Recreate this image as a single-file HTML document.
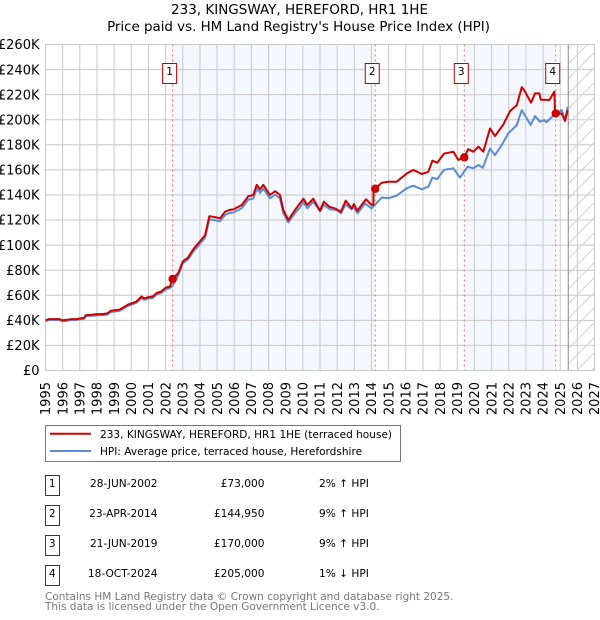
<!DOCTYPE html>
<html lang="en">
<head>
<meta charset="utf-8">
<title>233, KINGSWAY, HEREFORD, HR1 1HE</title>
<style>
html,body{margin:0;padding:0;background:#fff;width:600px;height:620px;overflow:hidden}
svg{display:block}
text{font-family:"DejaVu Sans",sans-serif;fill:#000}
</style>
</head>
<body>
<svg id="chart" width="600" height="620" viewBox="0 0 600 620">
<defs>
<pattern id="hatch" width="15" height="15" patternUnits="userSpaceOnUse" patternTransform="translate(2 0)">
<path d="M-1 16L16 -1M-1 1L1 -1M14 16L16 14" stroke="#d2d2d2" stroke-width="1" fill="none"/>
</pattern>
</defs>
<text x="299.5" y="14" text-anchor="middle" font-size="13.5">233, KINGSWAY, HEREFORD, HR1 1HE</text>
<text x="298.5" y="31" text-anchor="middle" font-size="13.4">Price paid vs. HM Land Registry's House Price Index (HPI)</text>
<g id="plot"></g>
<g>
<rect x="45.5" y="425.5" width="355" height="36" fill="#fff" stroke="#777"/>
<line x1="50" x2="91" y1="433.7" y2="433.7" stroke="#cc0000" stroke-width="2"/>
<text x="100" y="438" font-size="10.55">233, KINGSWAY, HEREFORD, HR1 1HE (terraced house)</text>
<line x1="50" x2="91" y1="451" y2="451" stroke="#5b8bd0" stroke-width="2"/>
<text x="100" y="455" font-size="10.55">HPI: Average price, terraced house, Herefordshire</text>
</g>
<g>
<g>
<rect x="45.5" y="475.5" width="14" height="20" fill="#fff" stroke="#b30000"/>
<text x="52.3" y="487" text-anchor="middle" font-size="10.6">1</text>
<text x="157.5" y="487" text-anchor="end" font-size="10.6">28-JUN-2002</text>
<text x="264.5" y="487" text-anchor="end" font-size="10.6">£73,000</text>
<text x="319" y="487" font-size="10.6">2% ↑ HPI</text>
</g>
<g>
<rect x="45.5" y="505.5" width="14" height="20" fill="#fff" stroke="#b30000"/>
<text x="52.3" y="517" text-anchor="middle" font-size="10.6">2</text>
<text x="157.5" y="517" text-anchor="end" font-size="10.6">23-APR-2014</text>
<text x="264.5" y="517" text-anchor="end" font-size="10.6">£144,950</text>
<text x="319" y="517" font-size="10.6">9% ↑ HPI</text>
</g>
<g>
<rect x="45.5" y="535.5" width="14" height="20" fill="#fff" stroke="#b30000"/>
<text x="52.3" y="547" text-anchor="middle" font-size="10.6">3</text>
<text x="157.5" y="547" text-anchor="end" font-size="10.6">21-JUN-2019</text>
<text x="264.5" y="547" text-anchor="end" font-size="10.6">£170,000</text>
<text x="319" y="547" font-size="10.6">9% ↑ HPI</text>
</g>
<g>
<rect x="45.5" y="565.5" width="14" height="20" fill="#fff" stroke="#b30000"/>
<text x="52.3" y="577" text-anchor="middle" font-size="10.6">4</text>
<text x="157.5" y="577" text-anchor="end" font-size="10.6">18-OCT-2024</text>
<text x="264.5" y="577" text-anchor="end" font-size="10.6">£205,000</text>
<text x="319" y="577" font-size="10.6">1% ↓ HPI</text>
</g>
</g>
<text x="45" y="600" font-size="10.5" style="fill:#777">Contains HM Land Registry data © Crown copyright and database right 2025.</text>
<text x="45" y="610" font-size="10.5" style="fill:#777">This data is licensed under the Open Government Licence v3.0.</text>
</svg>
<script>
const yearTicks = [1995,1996,1997,1998,1999,2000,2001,2002,2003,2004,2005,2006,2007,2008,2009,2010,2011,2012,2013,2014,2015,2016,2017,2018,2019,2020,2021,2022,2023,2024,2025,2026,2027];
const valueTicks = [0,20,40,60,80,100,120,140,160,180,200,220,240,260];
const saleYears = [2002.41,2014.22,2019.41,2024.74];
const saleValues = [73,144.95,170,205];
const saleLabels = ["1","2","3","4"];
const forecastStart = 2025.47;
const priceYears = [1995,1995.2,1995.5,1995.8,1996,1996.3,1996.5,1996.8,1997,1997.25,1997.36,1997.7,1998,1998.3,1998.6,1998.8,1999,1999.3,1999.5,1999.8,2000,2000.3,2000.6,2000.75,2001,2001.25,2001.5,2001.75,2002,2002.25,2002.41,2002.75,2003,2003.3,2003.61,2004,2004.3,2004.55,2004.8,2005.17,2005.46,2005.7,2005.95,2006.44,2006.82,2007.11,2007.31,2007.5,2007.7,2008.08,2008.38,2008.67,2008.86,2009.15,2009.54,2010.03,2010.26,2010.61,2011,2011.23,2011.54,2011.87,2012.21,2012.5,2012.85,2012.98,2013.17,2013.68,2014.01,2014.11,2014.12,2014.22,2014.6,2014.98,2015.47,2016.05,2016.44,2016.93,2017.31,2017.55,2017.84,2018.23,2018.77,2019.06,2019.41,2019.64,2019.94,2020.23,2020.52,2020.91,2021.2,2021.68,2022.08,2022.47,2022.76,2022.95,2023.3,2023.53,2023.78,2023.87,2024.07,2024.37,2024.66,2024.7,2025.09,2025.28,2025.44];
const priceValues = [40,41,41,41,40,40.5,41,41,41.5,42,44.2,44.5,45,45,45.5,47.5,48,48.5,50,52.5,53.5,55,59,57.5,58.5,59,62,63,66,67,73,78,87,90,96.6,103,108,123,122.5,121.4,126.6,128,128.5,132,139,140,148,144.5,148,140,143,140,128,120,128,137,132,137,127.4,134.6,130.6,129.3,126.6,135.4,129.3,132.8,127.4,136.5,132,132.5,145,145,149.8,150.6,150.6,157,160,156.7,158.5,167.3,165.7,173,174.5,168,170,176.6,174.5,178.5,174.5,193,187,196,207,211.7,226,222.4,213.6,221,221,216,216,215.7,222.4,205,205,199,207.7];
const hpiYears = [1995,1995.2,1995.5,1995.8,1996,1996.3,1996.5,1996.8,1997,1997.25,1997.36,1997.7,1998,1998.3,1998.6,1998.8,1999,1999.3,1999.5,1999.8,2000,2000.3,2000.6,2000.75,2001,2001.25,2001.5,2001.75,2002,2002.25,2002.41,2002.75,2003,2003.3,2003.61,2004,2004.3,2004.55,2004.8,2005.17,2005.46,2005.7,2005.95,2006.44,2006.82,2007.11,2007.31,2007.5,2007.7,2008.08,2008.38,2008.67,2008.86,2009.15,2009.54,2009.83,2010.03,2010.26,2010.61,2011,2011.23,2011.58,2011.97,2012.23,2012.48,2012.85,2012.94,2013.2,2013.63,2014.01,2014.6,2014.98,2015.47,2016.05,2016.44,2016.93,2017.31,2017.55,2017.84,2018.23,2018.77,2019.16,2019.6,2019.94,2020.23,2020.49,2020.91,2021.2,2021.59,2021.97,2022.47,2022.76,2023.28,2023.53,2023.82,2024.07,2024.2,2024.72,2025.09,2025.28,2025.44];
const hpiValues = [39.5,40.3,40.3,40.2,39.2,39.8,40.3,40.3,40.8,41.2,43.4,43.6,44.1,44.2,44.6,46.6,47,47.5,49,51.5,52.5,54,57.8,56.4,57.4,57.8,60.8,61.8,64.7,65.7,67.5,76.5,85.5,88.5,94.7,101,106,120.5,120,119,124,125.5,126,129.5,136.3,137.2,145,141.7,145,137.3,140.2,137.3,125.5,118,125.5,130,134.3,129.4,134.6,127,132,128.5,128,125.4,132.5,128.5,130.6,125.4,133.3,129.3,138,137.3,139.4,145.3,147.4,144.5,146.6,153.8,152.7,160,161.3,153.8,162.5,161.3,163.9,161.7,177,171.8,179.8,189,195.8,207.7,195.8,203,198.4,199.8,198,205,207.7,199.8,210.4];

const NS = 'http://www.w3.org/2000/svg';
const plot = document.getElementById('plot');
const left = 45.5, right = 594.5, top0 = 44.5, bottom = 370.5;
const xAt = y => left + (y - 1995) * (right - left) / (2027 - 1995);
const yAt = v => bottom - v * (bottom - top0) / 260;
function make(tag, attrs, parent) {
  const el = document.createElementNS(NS, tag);
  for (const k in attrs) el.setAttribute(k, attrs[k]);
  (parent || plot).appendChild(el);
  return el;
}
const bandEdges = saleYears;
for (let i = 0; i + 1 < bandEdges.length; i += 2) {
  const band = make('rect', {x: xAt(bandEdges[i]), y: top0, width: xAt(bandEdges[i + 1]) - xAt(bandEdges[i]), height: bottom - top0, fill: '#f4f7fe'});
  
  
}
valueTicks.forEach(v => {
  const g = make('line', {x1: left, x2: right, y1: yAt(v), y2: yAt(v), stroke: '#c8c8c8', 'stroke-width': 1});
  
  
  const t = make('text', {x: 39.5, y: yAt(v) + 4.7, 'text-anchor': 'end', 'font-size': 13});
  
  
  t.textContent = '£' + v + (v ? 'K' : '');
});
yearTicks.forEach(y => {
  const g = make('line', {x1: xAt(y), x2: xAt(y), y1: top0, y2: bottom, stroke: '#c8c8c8', 'stroke-width': 1});
  
  
  const t = make('text', {transform: 'translate(' + (xAt(y) + 4.7) + ' 382) rotate(-90)', 'text-anchor': 'end', 'font-size': 13});
  
  
  t.textContent = y;
});
const hatchRect = make('rect', {x: xAt(forecastStart), y: top0, width: right - xAt(forecastStart), height: bottom - top0, fill: 'url(#hatch)'});


const nowLine = make('line', {x1: xAt(forecastStart), x2: xAt(forecastStart), y1: top0, y2: bottom, stroke: '#888', 'stroke-width': 1});


const frame = make('rect', {x: left, y: top0, width: right - left, height: bottom - top0, fill: 'none', stroke: '#c8c8c8'});


saleYears.forEach(y => {
  const d = make('line', {x1: xAt(y), x2: xAt(y), y1: top0, y2: bottom, stroke: '#f06a6a', 'stroke-width': 1, 'stroke-dasharray': '2 3'});
  
  
});
function series(xs, vs, colour) {
  return make('polyline', {points: xs.map((y, i) => xAt(y).toFixed(1) + ',' + yAt(vs[i]).toFixed(1)).join(' '), fill: 'none', stroke: colour, 'stroke-width': 2, 'stroke-linejoin': 'round'});
}
const hpiLine = series(hpiYears, hpiValues, '#5b8bd0');


const priceLine = series(priceYears, priceValues, '#cc0000');


saleYears.forEach((y, i) => {
  const c = make('circle', {cx: xAt(y), cy: yAt(saleValues[i]), r: 4.2, fill: '#cc0000'});
  
  
  const b = make('rect', {x: xAt(y) - 10, y: 63.5, width: 14, height: 20, fill: '#fff', stroke: '#b30000'});
  
  
  const t = make('text', {x: xAt(y) - 3, y: 75, 'text-anchor': 'middle', 'font-size': 10.6});
  
  
  t.textContent = saleLabels[i];
});
</script>
</body>
</html>
